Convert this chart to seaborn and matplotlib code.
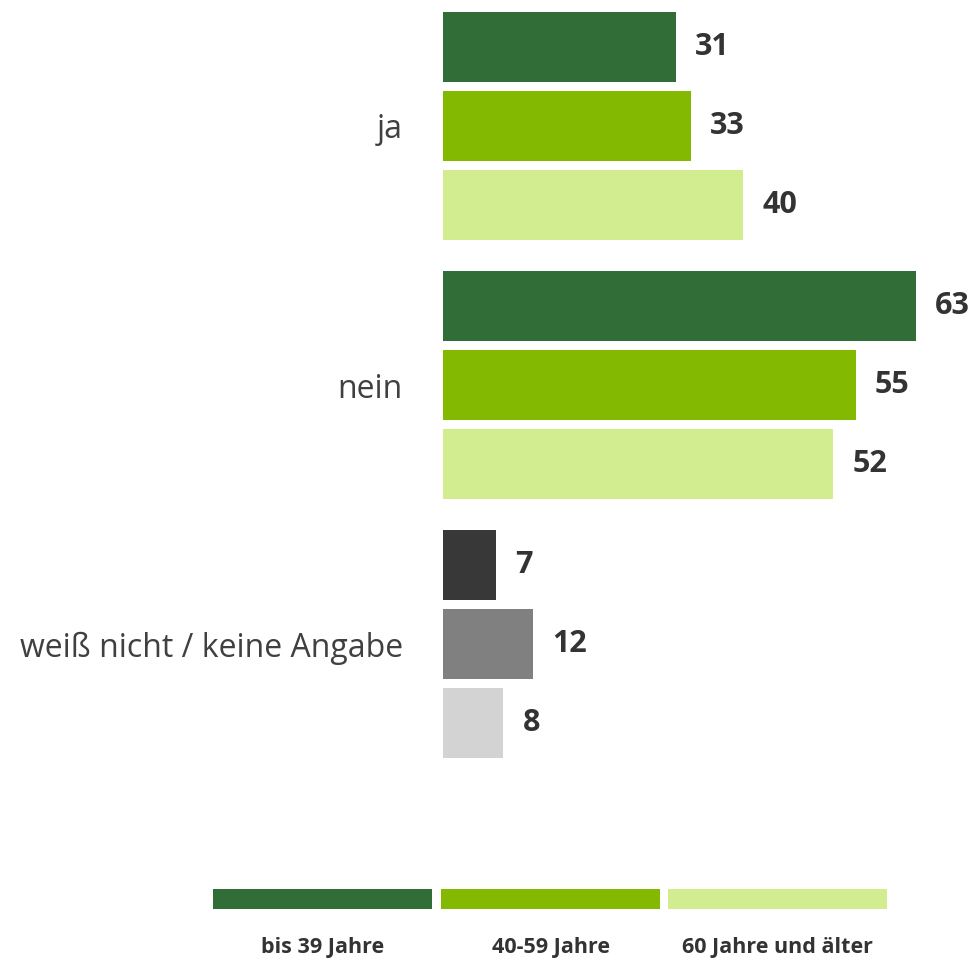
import matplotlib
matplotlib.use("Agg")
import matplotlib.pyplot as plt
import seaborn as sns
import pandas as pd
from matplotlib.patches import Rectangle

# Daten
antworten = ["ja", "nein", "weiß nicht / keine Angabe"]
altersgruppen = ["bis 39 Jahre", "40-59 Jahre", "60 Jahre und älter"]
werte_bis39 = [31, 63, 7]
werte_40_59 = [33, 55, 12]
werte_60plus = [40, 52, 8]

farben_gruen = ["#306d37", "#83b900", "#d1ed8f"]
farben_grau = ["#383838", "#808080", "#d3d3d3"]

df = pd.DataFrame({
    "Antwort": antworten * 3,
    "Alter": [a for a in altersgruppen for _ in antworten],
    "Wert": werte_bis39 + werte_40_59 + werte_60plus,
})

sns.set_style("white")
plt.rcParams["font.family"] = ["Open Sans", "DejaVu Sans"]

fig = plt.figure(figsize=(9.76, 9.61), dpi=100)
ax = fig.add_axes([443 / 976, 1 - 770 / 961, (976 - 443) / 976, 770 / 961])

sns.barplot(data=df, y="Antwort", x="Wert", hue="Alter", order=antworten,
            hue_order=altersgruppen, palette=farben_gruen, orient="h",
            width=0.915, gap=0.115, linewidth=0, saturation=1,
            legend=False, ax=ax)

# letzte Gruppe grau einfärben, Werte beschriften
for i, cont in enumerate(ax.containers):
    for j, bar in enumerate(cont):
        if j == 2:
            bar.set_facecolor(farben_grau[i])
        w = bar.get_width()
        ax.text(w + 2.6, bar.get_y() + bar.get_height() / 2, f"{w:.0f}",
                va="center", ha="left", fontsize=22, fontweight="bold",
                color="#333333")

ax.set_xlim(0, 533 / 7.5)
ax.set_ylim(2.486, -0.486)
ax.set_xlabel("")
ax.set_ylabel("")
ax.set_xticks([])
ax.tick_params(axis="y", length=0, pad=28.8, labelsize=23, labelcolor="#404040")
sns.despine(ax=ax, left=True, bottom=True)

# Legende unten
leg_x = [213, 441, 668]
leg_w = 219
for x0, farbe, name in zip(leg_x, farben_gruen, altersgruppen):
    fig.patches.append(Rectangle((x0 / 976, 1 - 909 / 961), leg_w / 976, 20 / 961,
                                 transform=fig.transFigure, facecolor=farbe,
                                 edgecolor="none"))
    fig.text((x0 + leg_w / 2) / 976, 1 - 948 / 961, name, ha="center", va="center",
             fontsize=15.5, fontweight="bold", color="#333333")

fig.savefig("out.png", dpi=100)
